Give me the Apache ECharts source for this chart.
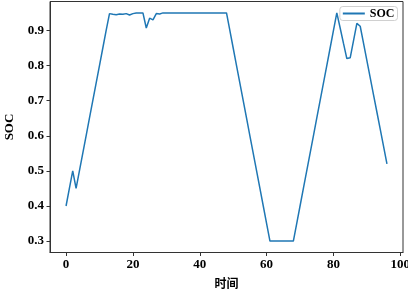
<!DOCTYPE html>
<html>
<head>
<meta charset="utf-8">
<script src="https://cdn.jsdelivr.net/npm/echarts@6/dist/echarts.min.js"></script>
<style>html,body{margin:0;padding:0;background:#fff}#c{width:408px;height:292px}</style>
</head>
<body>
<div id="c"></div>
<script>
const seriesName = 'SOC';
const xTicks = [0, 20, 40, 60, 80, 100];
const yTicks = [0.3, 0.4, 0.5, 0.6, 0.7, 0.8, 0.9];
const times = [];
for (let i = 0; i <= 96; i++) times.push(i);
const soc = [
  0.40, 0.45, 0.50, 0.45, 0.50, 0.55, 0.60, 0.65, 0.70, 0.75,
  0.80, 0.85, 0.90, 0.948, 0.946, 0.945, 0.947, 0.946, 0.948, 0.944,
  0.948, 0.95, 0.95, 0.95, 0.907, 0.935, 0.93, 0.948, 0.947, 0.95,
  0.95, 0.95, 0.95, 0.95, 0.95, 0.95, 0.95, 0.95, 0.95, 0.95,
  0.95, 0.95, 0.95, 0.95, 0.95, 0.95, 0.95, 0.95, 0.95, 0.90,
  0.85, 0.80, 0.75, 0.70, 0.65, 0.60, 0.55, 0.50, 0.45, 0.40,
  0.35, 0.30, 0.30, 0.30, 0.30, 0.30, 0.30, 0.30, 0.30, 0.35,
  0.40, 0.45, 0.50, 0.55, 0.60, 0.65, 0.70, 0.75, 0.80, 0.85,
  0.90, 0.95, 0.907, 0.863, 0.82, 0.822, 0.871, 0.92, 0.912, 0.863,
  0.814, 0.765, 0.716, 0.667, 0.618, 0.569, 0.52
];
const data = times.map((t, i) => [t, soc[i]]);
const serif = '"Liberation Serif", "DejaVu Serif", serif';
const chart = echarts.init(document.getElementById('c'), null, {renderer: 'canvas'});
chart.setOption({
  animation: false,
  backgroundColor: '#fff',
  grid: {left: 50, top: 1.5, right: 5, bottom: 39.5, show: true, borderColor: '#333', borderWidth: 1,
    containLabel: false, outerBoundsMode: 'none'},
  legend: {
    right: 10.5, top: 6.5,
    data: [{name: seriesName, icon: 'rect'}],
    itemWidth: 22, itemHeight: 2, itemGap: 4,
    padding: [1, 3, 1, 3],
    borderColor: '#d0d0d0', borderWidth: 1, borderRadius: 3,
    backgroundColor: 'rgba(255,255,255,0.8)',
    textStyle: {fontFamily: serif, fontSize: 12, fontWeight: 'bold', color: '#000', padding: [0, 0, 0, 0]}
  },
  xAxis: {
    type: 'value', min: -4.8, max: 100.8,
    name: '时间', nameLocation: 'middle', nameGap: 24.5, nameMoveOverlap: false,
    nameTextStyle: {fontFamily: '"Noto Sans CJK SC", sans-serif', fontSize: 12, fontWeight: 'bold', color: '#000'},
    axisLine: {show: true, onZero: false, lineStyle: {color: '#333', width: 1}},
    axisTick: {show: true, length: 3.5, customValues: xTicks, lineStyle: {color: '#333'}},
    axisLabel: {customValues: xTicks, fontFamily: serif, fontSize: 13, fontWeight: 'bold', color: '#000', margin: 6},
    splitLine: {show: false}
  },
  yAxis: {
    type: 'value', min: 0.2675, max: 0.9825,
    name: 'SOC', nameLocation: 'middle', nameGap: 33.5, nameRotate: 90, nameMoveOverlap: false,
    nameTextStyle: {fontFamily: serif, fontSize: 13, fontWeight: 'bold', color: '#000'},
    axisLine: {show: true, onZero: false, lineStyle: {color: '#333', width: 1}},
    axisTick: {show: true, length: 3.5, customValues: yTicks, lineStyle: {color: '#333'}},
    axisLabel: {customValues: yTicks, fontFamily: serif, fontSize: 13, fontWeight: 'bold', color: '#000', margin: 6,
      formatter: v => v.toFixed(1)},
    splitLine: {show: false}
  },
  series: [{
    name: seriesName, type: 'line', data: data, showSymbol: false, symbol: 'none',
    lineStyle: {color: '#1f77b4', width: 1.5}, itemStyle: {color: '#1f77b4'}
  }]
});
</script>
</body>
</html>
